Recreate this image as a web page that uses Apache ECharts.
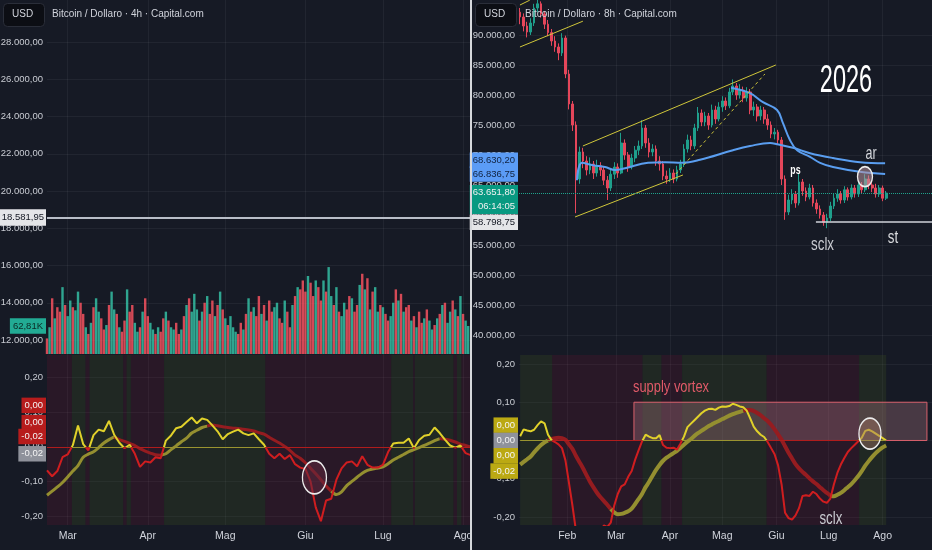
<!DOCTYPE html>
<html><head><meta charset="utf-8">
<script src="https://cdn.jsdelivr.net/npm/echarts@6/dist/echarts.min.js"></script>
<style>html,body{margin:0;padding:0;background:#161a25;}#c{width:932px;height:550px;}</style>
</head><body><div id="c"></div><script>
// ---------------- DATA ----------------
// day index: 0 = 1 Jan
const leftMonthDays = [59, 90, 120, 151, 181, 212];
const leftMonthNames = ['Mar', 'Apr', 'Mag', 'Giu', 'Lug', 'Ago'];
const rightMonthDays = [31, 59, 90, 120, 151, 181, 212];
const rightMonthNames = ['Feb', 'Mar', 'Apr', 'Mag', 'Giu', 'Lug', 'Ago'];
const leftPriceTicks = [12000, 14000, 16000, 18000, 20000, 22000, 24000, 26000, 28000];
const rightPriceTicks = [40, 45, 50, 55, 60, 65, 70, 75, 80, 85, 90]; // thousands USD
const oscTicks = [-0.2, -0.1, 0, 0.1, 0.2];

// left panel: daily volume (K), from day 51
const leftVolStartDay = 51;
const leftVolume = [
 35,60,125,80,105,95,150,110,85,120,
 105,98,140,115,90,60,45,70,105,125,
 95,80,55,65,110,140,100,90,60,50,
 75,145,95,110,70,50,60,95,125,85,
 70,55,45,60,50,80,95,75,60,55,
 70,45,55,85,110,125,95,135,100,75,
 95,115,130,90,120,85,110,140,100,80,
 65,85,60,50,45,70,55,90,125,95,
 105,85,130,90,110,75,120,95,105,115,
 80,70,120,95,60,110,130,150,145,165,
 140,175,160,130,165,150,120,165,140,195,
 130,110,150,95,85,115,100,130,125,95,
 110,155,180,145,170,100,140,150,95,110,
 105,90,75,85,115,145,120,135,95,105,
 110,75,85,60,95,70,80,100,75,55,
 65,80,90,110,115,70,95,120,100,85,
 130,90,75,62.81];
const leftVolDir = ('rgrgrrgrgg rggrrgrgrg grrgrggrgr rgrrggrgrr ggrgrrgrgg rrgrgrgggr ' +
  'grgrrgrgrg rgggrrgrgr grrgrgrrgg rrgrrgrgrr rgrrgrrgrg grgrggrrgr rgrgrgrggr ' +
  'grrggrgrgr rgrgrrgrgg rgrgrggrgr grgg').replace(/ /g, '');

// left oscillator, every 2 days from day 51
const leftOscStartDay = 51, leftOscStep = 2;
const leftFast = [
 -0.068,-0.085,-0.07,-0.03,-0.022,0.005,0.062,0.008,-0.01,0.034,
 0.05,0.045,0.075,0.035,0.012,-0.004,0.006,-0.02,-0.058,-0.042,
 -0.045,-0.03,-0.033,0.018,0.033,0.054,0.058,0.072,0.085,0.068,
 0.082,0.078,0.062,0.045,0.022,0.037,0.044,0.05,0.039,0.034,
 0.039,0.022,0.006,-0.02,-0.033,-0.02,-0.035,-0.024,-0.05,-0.06,
 -0.064,-0.1,-0.175,-0.215,-0.155,-0.15,-0.095,-0.062,-0.045,-0.042,
 -0.056,-0.027,-0.052,-0.06,-0.06,-0.052,-0.015,0.01,0.012,0.012,
 0.024,-0.004,0.02,0.032,0.035,0.056,0.04,0.021,0.004,-0.002,
 0.004,-0.018,-0.024];
const leftSlow = [
 -0.14,-0.128,-0.116,-0.103,-0.087,-0.07,-0.054,-0.03,-0.021,-0.014,
 -0.002,0.011,0.021,0.029,0.021,0.016,0.01,0.004,-0.005,-0.012,
 -0.018,-0.023,-0.024,-0.02,-0.008,0.003,0.015,0.025,0.04,0.048,
 0.056,0.06,0.063,0.061,0.058,0.056,0.054,0.053,0.051,0.049,
 0.046,0.041,0.037,0.028,0.019,0.011,0.001,-0.01,-0.024,-0.033,
 -0.046,-0.062,-0.078,-0.095,-0.113,-0.128,-0.138,-0.13,-0.112,-0.1,
 -0.088,-0.076,-0.068,-0.064,-0.061,-0.058,-0.049,-0.038,-0.03,-0.022,
 -0.014,-0.008,-0.002,0.004,0.011,0.018,0.024,0.022,0.019,0.014,
 0.008,0.004,0.0];

// right panel: 2-day candles [open, close, low, high] in thousands USD, from day 4
const rightStartDay = 4, rightStep = 2;
const rightCandles = [
 [93.8,93.0,91.8,94.5],[93.0,91.5,90.6,93.6],[91.5,90.5,89.6,92.2],[90.5,92.0,90.0,92.8],[92.0,94.5,91.5,95.2],
 [94.5,95.2,93.8,96.0],[95.2,93.5,92.9,95.6],[93.5,91.8,91.0,94.0],[91.8,90.4,89.8,92.5],[90.4,89.0,88.2,91.0],
 [89.0,88.0,87.2,89.8],[88.0,87.0,85.8,88.6],[87.0,89.5,86.5,90.3],[89.5,83.5,82.8,89.9],[83.5,78.5,77.6,84.2],
 [78.5,75.0,74.0,79.0],[75.0,66.0,60.3,75.6],[66.0,70.5,65.2,71.4],[70.5,69.0,67.8,71.2],[69.0,67.5,66.6,69.8],
 [67.5,68.5,66.8,69.6],[68.5,67.0,66.0,69.0],[67.0,68.2,66.4,69.2],[68.2,67.5,66.5,68.8],[67.5,65.8,65.0,68.0],
 [65.8,64.5,62.5,66.5],[64.5,66.8,64.0,67.5],[66.8,68.0,66.0,68.8],[68.0,67.0,66.2,68.6],[67.0,72.0,66.8,73.7],
 [72.0,70.0,69.2,72.6],[70.0,68.0,67.2,70.5],[68.0,69.5,67.6,70.2],[69.5,70.8,68.8,71.5],[70.8,71.5,70.0,72.4],
 [71.5,74.5,71.0,75.8],[74.5,72.0,71.2,75.0],[72.0,70.5,69.6,72.8],[70.5,71.0,69.8,71.8],[71.0,69.0,68.2,71.6],
 [69.0,68.5,67.4,69.8],[68.5,66.5,65.8,69.0],[66.5,66.0,65.2,67.4],[66.0,67.0,65.5,67.8],[67.0,66.0,65.3,67.6],
 [66.0,67.5,65.6,68.2],[67.5,68.5,67.0,69.2],[68.5,71.0,68.0,71.8],[71.0,72.5,70.4,73.4],[72.5,71.5,70.8,73.2],
 [71.5,74.5,71.0,75.2],[74.5,77.0,74.0,78.0],[77.0,75.5,74.8,77.6],[75.5,76.5,74.8,77.2],[76.5,75.0,74.2,77.0],
 [75.0,77.5,74.6,78.4],[77.5,76.0,75.2,78.2],[76.0,78.0,75.6,78.8],[78.0,79.0,77.2,79.8],[79.0,78.2,77.5,79.6],
 [78.2,80.5,77.8,81.2],[80.5,81.5,80.0,82.6],[81.5,80.0,79.2,82.0],[80.0,80.8,79.4,81.8],[80.8,79.5,78.8,81.4],
 [79.5,80.5,78.9,81.3],[80.5,77.5,76.8,81.0],[77.5,78.0,76.5,78.9],[78.0,76.5,75.6,78.5],[76.5,77.5,75.8,78.2],
 [77.5,76.0,75.2,78.0],[76.0,75.0,74.2,76.8],[75.0,73.5,72.8,75.6],[73.5,73.8,72.6,74.5],[73.8,72.5,71.8,74.2],
 [72.5,66.0,65.0,73.0],[66.0,60.5,59.2,66.6],[60.5,62.5,60.0,63.4],[62.5,63.5,61.8,64.3],[63.5,62.0,61.2,64.0],
 [62.0,65.5,61.6,67.0],[65.5,64.0,63.2,66.0],[64.0,63.0,62.3,64.6],[63.0,64.5,62.6,65.2],[64.5,62.0,61.4,65.0],
 [62.0,61.0,60.2,62.6],[61.0,60.0,59.4,61.6],[60.0,58.8,58.2,60.5],[58.8,59.5,57.8,60.2],[59.5,61.5,59.0,62.2],
 [61.5,62.8,61.0,63.5],[62.8,63.5,62.2,64.3],[63.5,62.5,61.9,64.0],[62.5,64.2,62.0,64.8],[64.2,63.0,62.4,64.6],
 [63.0,64.5,62.6,65.1],[64.5,63.5,62.9,65.0],[63.5,65.0,63.0,65.6],[65.0,64.2,63.6,65.5],[64.2,66.0,63.8,66.8],
 [66.0,65.0,64.3,66.6],[65.0,64.5,63.8,65.6],[64.5,63.5,62.9,65.2],[63.5,64.5,63.0,65.0],[64.5,62.8,62.3,64.9],
 [62.8,63.65,62.5,64.0]];
// moving averages [day, price(k)]
const rightMaSlow = [[36.6,65.8],[39.5,68.7],[45.8,68.3],[52.7,68.0],[58.4,67.5],[64.2,67.8],[77.4,68.7],
 [87.1,68.8],[96.9,68.7],[107.2,69.2],[126.1,70.8],[135.9,71.5],[147.4,72.0],[151.4,71.8],[160.5,71.2],
 [170.3,70.3],[183.5,69.5],[199,68.8],[213.4,68.63]];
const rightMaFast = [[125,81.2],[135.9,80.3],[143.3,78.8],[151.4,77.5],[154.8,75.3],[158.8,72.5],[162.9,70.8],
 [170.3,69.7],[176.1,68.7],[183.5,68.0],[199,67.2],[213.4,66.84]];
// drawn trend lines [day, price(k)]
const channelLines = [
 {from:[40.0,71.5], to:[150.7,85.0], dashed:false},
 {from:[35.5,59.67], to:[97.4,66.67], dashed:false},
 {from:[93.3,66.83], to:[144.4,83.5], dashed:true},
 {from:[3.9,88.0], to:[40.0,92.3], dashed:false},
 {from:[3.9,95.0], to:[9.5,95.8], dashed:false}
];
// right oscillator, every 2 days from day 4
const rightFast = [
 0.011,0.029,0.026,0.024,0.028,0.04,0.05,0.045,0.015,0.001,
 -0.004,-0.01,-0.02,-0.052,-0.11,-0.17,-0.235,-0.27,-0.29,-0.3,
 -0.3,-0.29,-0.27,-0.25,-0.222,-0.226,-0.215,-0.17,-0.14,-0.12,
 -0.115,-0.095,-0.08,-0.05,-0.025,-0.002,0.015,0.01,0.006,0.006,
 0.014,-0.012,-0.019,-0.02,-0.019,-0.024,-0.008,0.01,0.035,0.044,
 0.053,0.062,0.071,0.078,0.082,0.083,0.08,0.086,0.089,0.088,
 0.09,0.096,0.093,0.089,0.087,0.078,0.058,0.036,0.024,0.015,
 0.009,-0.004,-0.02,-0.036,-0.065,-0.115,-0.189,-0.203,-0.207,-0.196,
 -0.177,-0.145,-0.143,-0.145,-0.134,-0.14,-0.152,-0.16,-0.163,-0.152,
 -0.115,-0.085,-0.063,-0.046,-0.03,-0.02,-0.011,-0.002,0.007,0.025,
 0.028,0.024,0.018,0.012,0.006,0.0];
const rightSlow = [
 -0.063,-0.056,-0.049,-0.042,-0.031,-0.021,-0.012,-0.005,0.0,0.004,
 0.006,0.007,0.006,0.002,-0.01,-0.022,-0.04,-0.056,-0.072,-0.09,
 -0.107,-0.122,-0.136,-0.148,-0.158,-0.168,-0.179,-0.188,-0.193,-0.192,
 -0.189,-0.185,-0.178,-0.166,-0.153,-0.139,-0.122,-0.108,-0.092,-0.077,
 -0.064,-0.053,-0.045,-0.039,-0.033,-0.027,-0.019,-0.011,-0.003,0.004,
 0.012,0.019,0.025,0.031,0.037,0.042,0.047,0.051,0.056,0.06,
 0.065,0.069,0.072,0.075,0.078,0.08,0.08,0.077,0.072,0.066,
 0.058,0.051,0.041,0.029,0.016,0.002,-0.015,-0.032,-0.047,-0.062,
 -0.073,-0.082,-0.09,-0.099,-0.107,-0.114,-0.122,-0.13,-0.137,-0.144,
 -0.146,-0.142,-0.137,-0.13,-0.122,-0.114,-0.104,-0.093,-0.08,-0.066,
 -0.054,-0.043,-0.033,-0.025,-0.018,-0.013];

// price tags and levels
const leftLevel = {value:18581.95, text:'18.581,95'};
const leftVolTag = {value:62.81, text:'62,81K'};
const leftOscTags = [
 {level:0.1153, text:'0,00', bg:'#b71c1c'}, {level:0.069, text:'0,00', bg:'#b71c1c'},
 {level:0.0256, text:'-0,02', bg:'#b71c1c'}, {level:-0.0178, text:'-0,02', bg:'#8f929b'}];
const rightPriceTags = [
 {level:68.6302, text:'68.630,20', bg:'#5b9cf6', fg:'#10223f', dy:-3},
 {level:66.83675, text:'66.836,75', bg:'#5b9cf6', fg:'#10223f', dy:0},
 {level:63.6518, text:'63.651,80\n06:14:05', bg:'#089981', fg:'#f2f2f2', dy:6.5},
 {level:58.79875, text:'58.798,75', bg:'#e4e5e8', fg:'#131722', dy:0}];
const rightSupport = {level:58.79875, fromDay:173.7};
const rightOscTags = [
 {level:0.0397, text:'0,00', bg:'#bba913'}, {level:-0.0008, text:'0,00', bg:'#8f929b'},
 {level:-0.04, text:'0,00', bg:'#bba913'}, {level:-0.0803, text:'-0,02', bg:'#bba913'}];
const supplyBox = {from:[69.3, 0], to:[237.4, 0.1], text:'supply vortex'};
const rightPriceNotes = [
 {text:'2026', at:[190.95,82.17], size:38, color:'#ffffff', weight:'normal', sx:0.62},
 {text:'ps', at:[162.0,67.42], size:13, color:'#ffffff', weight:'bold', sx:0.68},
 {text:'ar', at:[205.3,70.17], size:19, color:'#d6d8dd', weight:'normal', sx:0.66},
 {text:'sclx', at:[177.5,55.08], size:19, color:'#c8cad0', weight:'normal', sx:0.7},
 {text:'st', at:[217.9,56.17], size:19, color:'#dcdde0', weight:'normal', sx:0.7}];
const rightOscNotes = [{text:'sclx', at:[182.3,-0.205], size:19, color:'#c8cad0', weight:'normal', sx:0.7}];
const circles = {
 leftOsc:{at:[154.5,-0.0886], size:[24,33], fill:'rgba(95,40,62,0.55)'},
 rightOsc:{at:[204.7,0.0178], size:[22,31], fill:'rgba(160,115,100,0.45)'},
 rightPrice:{at:[201.85,66.38], size:[15,20], fill:'rgba(185,150,160,0.55)'}};

// ---------------- STYLE ----------------
const FONT = '"Liberation Sans",Arial,Roboto,sans-serif';
const BG = '#161a25', GRIDC = 'rgba(255,255,255,0.05)', AXT = '#c9ccd3';
const RED_F = '#d01d1f', YEL_F = '#e0d12a', SLOW_OL = '#948f30', SLOW_RD = '#951c20';
const ZERO_RD = '#b01c1c', ZERO_OL = '#9a9430';
const BAND_G = 'rgba(70,90,30,0.22)', BAND_R = 'rgba(120,20,50,0.2)';
const UP = '#1f9f8c', DN = '#e4465a', MA = '#5a9ef0', CH = '#cfc63a';
const VOL_R = 'rgba(246,82,95,0.85)', VOL_G = 'rgba(52,190,163,0.85)';
const HIDDEN = 'rgba(0,0,0,0)';

function itNum(v, dec) {
  const s = v.toFixed(dec); let parts = s.split('.'); let i = parts[0]; const neg = i[0] === '-';
  if (neg) i = i.slice(1);
  i = i.replace(/\B(?=(\d{3})+(?!\d))/g, '.');
  return (neg ? '-' : '') + i + (parts[1] !== undefined ? ',' + parts[1] : '');
}
const oscFmt = v => (Math.abs(v) < 1e-9 ? 0 : v).toFixed(2).replace('.', ',');

function splitSlow(xs, fast, slow) {
  const n = xs.length, st = fast.map((f, i) => f >= slow[i]);
  const ol = [], rd = [];
  for (let i = 0; i < n; i++) {
    const o = st[i] || (i + 1 < n && st[i + 1]);
    const r = !st[i] || (i + 1 < n && !st[i + 1]);
    ol.push([xs[i], o ? slow[i] : null]);
    rd.push([xs[i], r ? slow[i] : null]);
  }
  return {ol, rd};
}
function runs(xs, fast, x0, x1) {
  const out = []; let start = x0, s = fast[0] >= 0;
  for (let i = 1; i < fast.length; i++) {
    const s2 = fast[i] >= 0;
    if (s2 !== s) {
      const t = fast[i - 1] / (fast[i - 1] - fast[i]);
      const xc = xs[i - 1] + t * (xs[i] - xs[i - 1]);
      out.push([start, xc, s]); start = xc; s = s2;
    }
  }
  out.push([start, x1, s]);
  return out;
}
function tagLabel(text, bg, fg, dy, extra) {
  return Object.assign({show:true, position:'start', formatter:text, backgroundColor:bg, color:fg,
    fontFamily:FONT, fontSize:9.5, lineHeight:13.5, padding:[1,3,1,3], distance:1, offset:[0, dy || 0]}, extra || {});
}
function circleItem(c) {
  return {coord:c.at, symbol:'circle', symbolSize:c.size, label:{show:false},
    itemStyle:{color:c.fill, borderColor:'#ececec', borderWidth:1.5}};
}

// ---------------- BUILD ----------------
const LX = [51.0, 214.7], RX = [3.35, 240.3];
const leftXs = leftFast.map((_, i) => leftOscStartDay + i * leftOscStep);
const rightXs = rightFast.map((_, i) => rightStartDay + i * rightStep);
const lSlow = splitSlow(leftXs, leftFast, leftSlow);
const rSlow = splitSlow(rightXs, rightFast, rightSlow);
const lRuns = runs(leftXs, leftFast, LX[0], LX[1]);
const rRuns = runs(rightXs, rightFast, rightXs[0], rightXs[rightXs.length - 1]);

function xAxisDef(gi, ext, days, names, showLabels, show) {
  return {gridIndex:gi, type:'value', min:ext[0], max:ext[1], show:show !== false,
    axisLine:{show:false},
    axisTick:{show:false, customValues:days},
    axisLabel:{show:!!showLabels, customValues:days, formatter:v => names[days.indexOf(v)] || '',
      color:'#d1d4dc', fontSize:10.5, fontFamily:FONT, margin:6},
    splitLine:{show:true, lineStyle:{color:GRIDC, width:1}}};
}
function yAxisDef(gi, min, max, ticks, fmt, show) {
  return {gridIndex:gi, type:'value', min, max, show:show !== false, position:'left',
    axisLine:{show:false}, axisTick:{show:false, customValues:ticks},
    axisLabel:{customValues:ticks, formatter:fmt, color:AXT, fontSize:9.5, fontFamily:FONT, margin:4},
    splitLine:{show:true, lineStyle:{color:GRIDC, width:1}}};
}
const tagLine = (level, label) => ({yAxis:level, lineStyle:{color:HIDDEN, width:0.1}, label});

const series = [];
// left price panel (price itself is above this range) – level line
series.push({type:'line', xAxisIndex:0, yAxisIndex:0, data:[], silent:true,
  markLine:{silent:true, symbol:['none','none'], animation:false,
    data:[{yAxis:leftLevel.value, lineStyle:{color:'#b9bec8', width:2, type:'solid'},
      label:tagLabel(leftLevel.text, '#e4e5e8', '#131722', 0, {padding:[2,2,1,2]})}]}});
// left volume
series.push({type:'bar', xAxisIndex:1, yAxisIndex:1, barWidth:2.4, silent:true,
  data:leftVolume.map((v, i) => ({value:[leftVolStartDay + i, v],
    itemStyle:{color:leftVolDir[i] === 'r' ? VOL_R : VOL_G}})),
  markLine:{silent:true, symbol:['none','none'], animation:false,
    data:[tagLine(leftVolTag.value, tagLabel(leftVolTag.text, '#22ab94', '#0b2a24', 0))]}});
// left oscillator bands + zero line
series.push({type:'line', xAxisIndex:2, yAxisIndex:2, z:1, silent:true, showSymbol:false,
  data:leftXs.map((x, i) => [x, leftSlow[i]]), lineStyle:{color:HIDDEN, width:0.1},
  markArea:{silent:true, label:{show:false},
    data:lRuns.map(r => [{xAxis:r[0], itemStyle:{color:r[2] ? BAND_G : BAND_R}}, {xAxis:r[1]}])},
  markLine:{silent:true, symbol:['none','none'], label:{show:false}, animation:false,
    data:lRuns.map(r => [{coord:[r[0], 0], lineStyle:{color:r[2] ? ZERO_OL : ZERO_RD, width:1, type:'solid'}}, {coord:[r[1], 0]}])}});
series.push({type:'line', xAxisIndex:2, yAxisIndex:2, z:3, silent:true, showSymbol:false, data:lSlow.ol,
  lineStyle:{color:SLOW_OL, width:3}, smooth:0.3});
series.push({type:'line', xAxisIndex:2, yAxisIndex:2, z:3, silent:true, showSymbol:false, data:lSlow.rd,
  lineStyle:{color:SLOW_RD, width:3}, smooth:0.3});
const lFastIdx = series.length;
series.push({type:'line', xAxisIndex:2, yAxisIndex:2, z:4, silent:true, showSymbol:false,
  data:leftXs.map((x, i) => [x, leftFast[i]]), lineStyle:{width:2}});
series.push({type:'line', xAxisIndex:2, yAxisIndex:2, z:6, silent:true, showSymbol:false,
  data:leftXs.map((x, i) => [x, leftFast[i]]), lineStyle:{color:HIDDEN, width:0.1},
  markLine:{silent:true, symbol:['none','none'], animation:false,
    data:leftOscTags.map(t => tagLine(t.level, tagLabel(t.text, t.bg, '#f5f5f5', 0)))},
  markPoint:{silent:true, animation:false, data:[circleItem(circles.leftOsc)]}});

// right price panel
series.push({type:'candlestick', xAxisIndex:3, yAxisIndex:3, z:2, silent:true, barWidth:2.2,
  encode:{x:0, y:[1,2,3,4]},
  data:rightCandles.map((c, i) => [rightStartDay + i * rightStep, c[0], c[1], c[2], c[3]]),
  itemStyle:{color:UP, color0:DN, borderColor:UP, borderColor0:DN, borderWidth:1}});
series.push({type:'line', xAxisIndex:3, yAxisIndex:3, z:3, silent:true, showSymbol:false, smooth:0.4,
  data:rightMaSlow, lineStyle:{color:MA, width:2},
  markLine:{silent:true, symbol:['none','none'], label:{show:false}, animation:false,
    data:[
      ...channelLines.map(c => [{coord:c.from, lineStyle:{color:CH, width:1, type:c.dashed ? [3,3] : 'solid'}}, {coord:c.to}]),
      [{coord:[rightSupport.fromDay, rightSupport.level], lineStyle:{color:'#d0d3da', width:1.5, type:'solid'}},
       {coord:[RX[1], rightSupport.level]}],
      {yAxis:rightPriceTags[2].level, lineStyle:{color:'#1fa38c', width:1, type:'dotted'}},
      ...rightPriceTags.map(t => tagLine(t.level, tagLabel(t.text, t.bg, t.fg, t.dy, {align:'right'})))
    ]},
  markPoint:{silent:true, animation:false, data:[circleItem(circles.rightPrice)]}});
series.push({type:'line', xAxisIndex:3, yAxisIndex:3, z:3, silent:true, showSymbol:false, smooth:0.4,
  data:rightMaFast, lineStyle:{color:MA, width:2}});

// right oscillator
series.push({type:'line', xAxisIndex:4, yAxisIndex:4, z:1, silent:true, showSymbol:false,
  data:rightXs.map((x, i) => [x, rightSlow[i]]), lineStyle:{color:HIDDEN, width:0.1},
  markArea:{silent:true, label:{show:false},
    data:rRuns.map(r => [{xAxis:r[0], itemStyle:{color:r[2] ? BAND_G : BAND_R}}, {xAxis:r[1]}])},
  markLine:{silent:true, symbol:['none','none'], label:{show:false}, animation:false,
    data:rRuns.map(r => [{coord:[r[0], 0], lineStyle:{color:r[2] ? ZERO_OL : ZERO_RD, width:1, type:'solid'}}, {coord:[r[1], 0]}])}});
series.push({type:'line', xAxisIndex:4, yAxisIndex:4, z:3, silent:true, showSymbol:false, data:rSlow.ol,
  lineStyle:{color:SLOW_OL, width:4}, smooth:0.3});
series.push({type:'line', xAxisIndex:4, yAxisIndex:4, z:3, silent:true, showSymbol:false, data:rSlow.rd,
  lineStyle:{color:SLOW_RD, width:4}, smooth:0.3});
const rFastIdx = series.length;
series.push({type:'line', xAxisIndex:4, yAxisIndex:4, z:4, silent:true, showSymbol:false,
  data:rightXs.map((x, i) => [x, rightFast[i]]), lineStyle:{width:2}});
series.push({type:'line', xAxisIndex:4, yAxisIndex:4, z:6, silent:true, showSymbol:false,
  data:rightXs.map((x, i) => [x, rightFast[i]]), lineStyle:{color:HIDDEN, width:0.1},
  markArea:{silent:true, label:{show:false}, data:[[{coord:supplyBox.from,
      itemStyle:{color:'rgba(205,140,150,0.28)', borderColor:'#d9606c', borderWidth:1}},
    {coord:supplyBox.to}]]},
  markLine:{silent:true, symbol:['none','none'], animation:false,
    data:rightOscTags.map(t => tagLine(t.level, tagLabel(t.text, t.bg, '#f5f5f5', 0)))},
  markPoint:{silent:true, animation:false, data:[circleItem(circles.rightOsc)]}});

const gridBase = {show:false, containLabel:false, outerBoundsMode:'none'};
const staticGraphic = [
  {id:'usdL', type:'rect', left:3, top:3, shape:{width:41, height:23, r:4}, style:{fill:'#0c0e14', stroke:'#2a2e39'}, z:50},
  {id:'usdLt', type:'text', left:12, top:9, style:{text:'USD', fill:'#d1d4dc', font:'10px ' + FONT}, z:51},
  {id:'ttlL', type:'text', left:52, top:9, style:{text:'Bitcoin / Dollaro · 4h · Capital.com', fill:'#d1d4dc', font:'10px ' + FONT}, z:51},
  {id:'usdR', type:'rect', left:475, top:3, shape:{width:41, height:23, r:4}, style:{fill:'#0c0e14', stroke:'#2a2e39'}, z:50},
  {id:'usdRt', type:'text', left:484, top:9, style:{text:'USD', fill:'#d1d4dc', font:'10px ' + FONT}, z:51},
  {id:'ttlR', type:'text', left:525, top:9, style:{text:'Bitcoin / Dollaro · 8h · Capital.com', fill:'#d1d4dc', font:'10px ' + FONT}, z:51},
  {id:'divider', type:'rect', left:470, top:0, shape:{width:2, height:550}, style:{fill:'#d6d8dc'}, z:100}
];
const option = {
  backgroundColor:BG, animation:false,
  textStyle:{fontFamily:FONT},
  grid:[
    Object.assign({left:47, top:0, width:423, height:355}, gridBase),
    Object.assign({left:47, top:260, width:423, height:94}, gridBase),
    Object.assign({left:47, top:355, width:423, height:170}, gridBase),
    Object.assign({left:519, top:0, width:413, height:355}, gridBase),
    Object.assign({left:519, top:355, width:413, height:170}, gridBase)
  ],
  xAxis:[
    xAxisDef(0, LX, leftMonthDays, leftMonthNames, false),
    xAxisDef(1, LX, leftMonthDays, leftMonthNames, false, false),
    xAxisDef(2, LX, leftMonthDays, leftMonthNames, true),
    xAxisDef(3, RX, rightMonthDays, rightMonthNames, false),
    xAxisDef(4, RX, rightMonthDays, rightMonthNames, true)
  ],
  yAxis:[
    yAxisDef(0, 11195, 30255, leftPriceTicks, v => itNum(v, 2)),
    yAxisDef(1, 0, 210.9, [], v => '', false),
    yAxisDef(2, -0.226, 0.2657, oscTicks, oscFmt),
    yAxisDef(3, 36.667, 95.833, rightPriceTicks, v => itNum(v * 1000, 2)),
    yAxisDef(4, -0.221, 0.2235, oscTicks, oscFmt)
  ],
  visualMap:[
    {type:'piecewise', show:false, seriesIndex:lFastIdx, dimension:1,
      pieces:[{gte:-1, lt:0, color:RED_F}, {gte:0, lte:1, color:YEL_F}]},
    {type:'piecewise', show:false, seriesIndex:rFastIdx, dimension:1,
      pieces:[{gte:-1, lt:0, color:RED_F}, {gte:0, lte:1, color:YEL_F}]}
  ],
  graphic:staticGraphic,
  series
};
const chart = echarts.init(document.getElementById('c'));
chart.setOption(option);

// text annotations anchored to data coordinates (narrowed like the source)
const noteGraphic = [];
function addNote(n, g, id) {
  const p = chart.convertToPixel({gridIndex:g}, n.at);
  noteGraphic.push({id, type:'text', x:p[0], y:p[1], scaleX:n.sx, z:60, silent:true,
    style:{text:n.text, fill:n.color, font:n.weight + ' ' + n.size + 'px ' + FONT, align:'center', verticalAlign:'middle'}});
}
rightPriceNotes.forEach((n, i) => addNote(n, 3, 'rp' + i));
rightOscNotes.forEach((n, i) => addNote(n, 4, 'ro' + i));
const sb = chart.convertToPixel({gridIndex:4}, [supplyBox.from[0], supplyBox.to[1]]);
noteGraphic.push({id:'supply', type:'text', x:sb[0] - 1, y:sb[1] - 15, scaleX:0.76, z:60, silent:true,
  style:{text:supplyBox.text, fill:'#e05a68', font:'17px ' + FONT, align:'left', verticalAlign:'middle'}});
chart.setOption({graphic:staticGraphic.concat(noteGraphic)});
</script></body></html>
